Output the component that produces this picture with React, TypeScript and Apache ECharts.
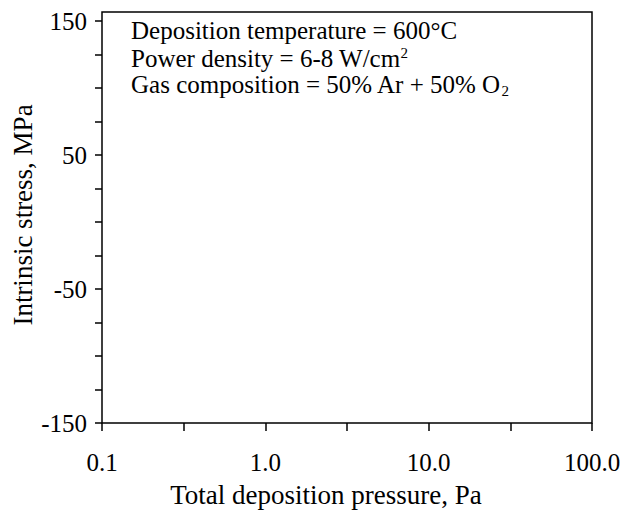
import React, { useEffect, useRef } from 'react';
import * as echarts from 'echarts';

// The reference figure shows an empty frame: no measured points are plotted.
const pressurePa: number[] = [];
const stressMPa: number[] = [];

// Axis ranges and tick labels (x axis is logarithmic: 0.1 – 100 Pa)
const xDecadeLabels = ['0.1', '1.0', '10.0', '100.0'];
const yLabelValues = [150, 50, -50, -150];

const xTitle = 'Total deposition pressure, Pa';
const yTitle = 'Intrinsic stress, MPa';

const noteLines = [
  '{t|Deposition temperature = 600°C}',
  '{t|Power density = 6-8 W/cm}{sup|2}',
  '{t|Gas composition = 50% Ar + 50% O}{sub|2}',
];

const FONT = 'Liberation Serif';

export default function App() {
  const ref = useRef<HTMLDivElement>(null);
  useEffect(() => {
    const chart = echarts.init(ref.current!, null, { renderer: 'svg' });
    const data = pressurePa.map((p, i) => [Math.log10(p), stressMPa[i]]);
    chart.setOption({
      animation: false,
      backgroundColor: '#fff',
      grid: { left: 102, right: 37, top: 21, bottom: 89 },
      xAxis: {
        type: 'value',
        min: -1,
        max: 2,
        interval: 0.5,
        axisLine: { show: false, onZero: false },
        axisTick: { show: true, inside: false, length: 8, lineStyle: { color: '#000', width: 1.5 } },
        splitLine: { show: false },
        axisLabel: {
          margin: 27,
          fontFamily: FONT,
          fontSize: 25,
          color: '#000',
          formatter: (v: number) => {
            const r = Math.round(v);
            if (Math.abs(v - r) > 1e-9) return '';
            return xDecadeLabels[r + 1] ?? '';
          },
        },
      },
      yAxis: {
        type: 'value',
        min: -150,
        max: 150,
        interval: 25,
        axisLine: { show: false, onZero: false },
        axisTick: { show: true, inside: false, length: 7, lineStyle: { color: '#000', width: 1.5 } },
        splitLine: { show: false },
        axisLabel: {
          margin: 15,
          fontFamily: FONT,
          fontSize: 25,
          color: '#000',
          formatter: (v: number) => (yLabelValues.includes(Math.round(v)) && Math.abs(v - Math.round(v)) < 1e-9 ? String(v) : ''),
        },
      },
      series: [
        {
          type: 'scatter',
          data,
          symbolSize: 8,
          itemStyle: { color: '#000' },
        },
      ],
      graphic: [
        {
          type: 'rect',
          shape: { x: 102, y: 12, width: 490, height: 411 },
          style: { fill: 'none', stroke: '#000', lineWidth: 1.5 },
          silent: true,
          z: 10,
        },
        {
          type: 'text',
          x: 326,
          y: 495,
          style: { text: xTitle, fontFamily: FONT, fontSize: 27, fill: '#000', align: 'center', verticalAlign: 'middle' },
        },
        {
          type: 'text',
          x: 23,
          y: 215,
          rotation: Math.PI / 2,
          style: { text: yTitle, fontFamily: FONT, fontSize: 27, fill: '#000', align: 'center', verticalAlign: 'middle' },
        },
        ...noteLines.map((line, i) => ({
          type: 'text',
          left: 131,
          top: 18 + i * 27,
          style: {
            text: line,
            rich: {
              t: { fontFamily: FONT, fontSize: 25, fill: '#000', lineHeight: 27 },
              sup: { fontFamily: FONT, fontSize: 15, fill: '#000', verticalAlign: 'top', lineHeight: 27, padding: [0, 0, 12, 0] },
              sub: { fontFamily: FONT, fontSize: 15, fill: '#000', verticalAlign: 'bottom', lineHeight: 27, padding: [8, 0, 0, 0] },
            },
          },
        })),
      ],
    });
    return () => chart.dispose();
  }, []);
  return <div ref={ref} style={{ position: 'absolute', left: 0, top: 0, width: 629, height: 512 }} />;
}
